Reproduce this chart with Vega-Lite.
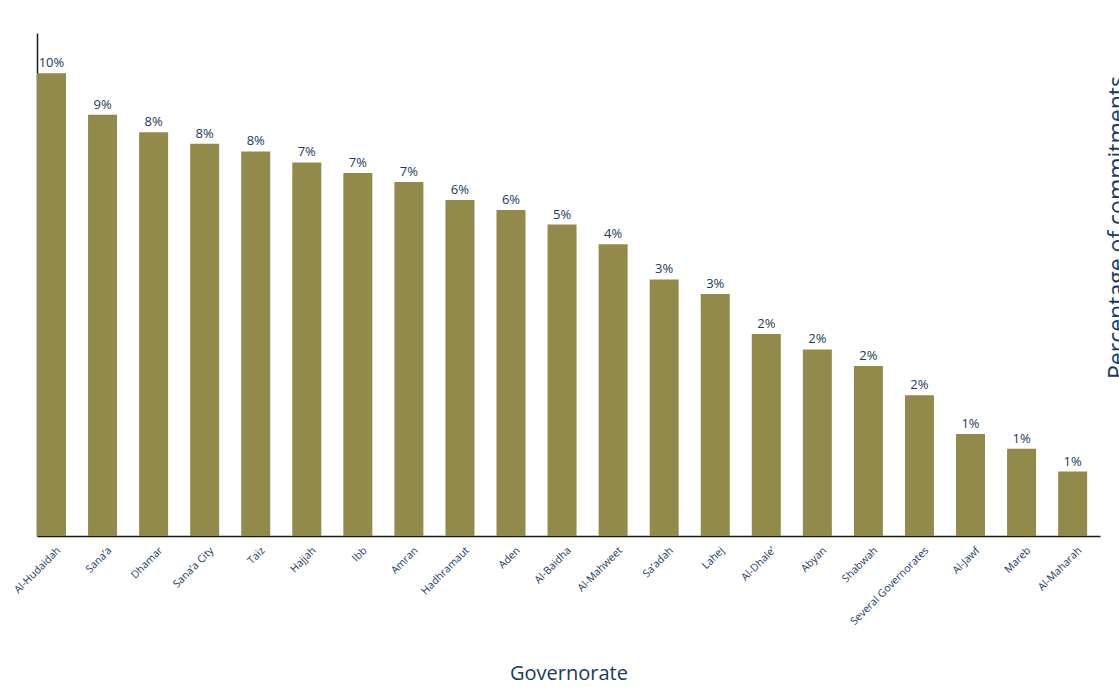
{
  "$schema": "https://vega.github.io/schema/vega-lite/v6.json",
  "autosize": {"type": "none"},
  "padding": {"left": 37, "top": 33, "right": 19, "bottom": 151},
  "width": 1063,
  "height": 503,
  "background": "white",
  "config": {
    "view": {"stroke": null},
    "font": "Open Sans",
    "axis": {"grid": false, "ticks": false}
  },
  "data": {
    "values": [
      {"governorate": "Al-Hudaidah", "pct": 10.12, "label": "10%"},
      {"governorate": "Sana’a", "pct": 9.21, "label": "9%"},
      {"governorate": "Dhamar", "pct": 8.83, "label": "8%"},
      {"governorate": "Sana’a City", "pct": 8.58, "label": "8%"},
      {"governorate": "Taiz", "pct": 8.41, "label": "8%"},
      {"governorate": "Hajjah", "pct": 8.17, "label": "7%"},
      {"governorate": "Ibb", "pct": 7.94, "label": "7%"},
      {"governorate": "Amran", "pct": 7.74, "label": "7%"},
      {"governorate": "Hadhramaut", "pct": 7.35, "label": "6%"},
      {"governorate": "Aden", "pct": 7.13, "label": "6%"},
      {"governorate": "Al-Baidha", "pct": 6.81, "label": "5%"},
      {"governorate": "Al-Mahweet", "pct": 6.38, "label": "4%"},
      {"governorate": "Sa’adah", "pct": 5.61, "label": "3%"},
      {"governorate": "Lahej", "pct": 5.29, "label": "3%"},
      {"governorate": "Al-Dhale’", "pct": 4.42, "label": "2%"},
      {"governorate": "Abyan", "pct": 4.08, "label": "2%"},
      {"governorate": "Shabwah", "pct": 3.72, "label": "2%"},
      {"governorate": "Several Governorates", "pct": 3.08, "label": "2%"},
      {"governorate": "Al-Jawf", "pct": 2.23, "label": "1%"},
      {"governorate": "Mareb", "pct": 1.91, "label": "1%"},
      {"governorate": "Al-Maharah", "pct": 1.41, "label": "1%"}
    ]
  },
  "encoding": {
    "x": {
      "field": "governorate",
      "type": "nominal",
      "sort": null,
      "scale": {"paddingInner": 0.432, "paddingOuter": 0.126, "align": 0},
      "axis": {
        "title": "Governorate",
        "titleFontSize": 20,
        "titleFontWeight": "normal",
        "titleColor": "#1B3A5C",
        "titlePadding": 37,
        "labelAngle": -45,
        "labelFontSize": 10.5,
        "labelColor": "#1B3A5C",
        "labelPadding": 9,
        "labelOffset": 4,
        "domainColor": "#1a1a1a",
        "domainWidth": 1.5
      }
    },
    "y": {
      "field": "pct",
      "type": "quantitative",
      "scale": {"domain": [0, 11], "nice": false}
    }
  },
  "layer": [
    {
      "mark": {"type": "bar", "color": "#918A4B"},
      "encoding": {
        "y": {
          "field": "pct",
          "type": "quantitative",
          "axis": {"orient": "left", "title": null, "labels": false, "domainColor": "#1a1a1a", "domainWidth": 1.5}
        }
      }
    },
    {
      "mark": {"type": "text", "color": "#1B3A5C", "fontSize": 13, "baseline": "alphabetic", "dy": -6},
      "encoding": {
        "text": {"field": "label"},
        "y": {
          "field": "pct",
          "type": "quantitative",
          "axis": {
            "orient": "right",
            "domain": false,
            "labels": false,
            "title": "Percentage of commitments",
            "titleFontSize": 23,
            "titleFontWeight": "normal",
            "titleColor": "#1B3A5C",
            "titleAngle": 270,
            "titleAlign": "center",
            "titleBaseline": "alphabetic",
            "titleX": 24,
            "titleY": 194
          }
        }
      }
    }
  ],
  "resolve": {"axis": {"y": "independent"}}
}
